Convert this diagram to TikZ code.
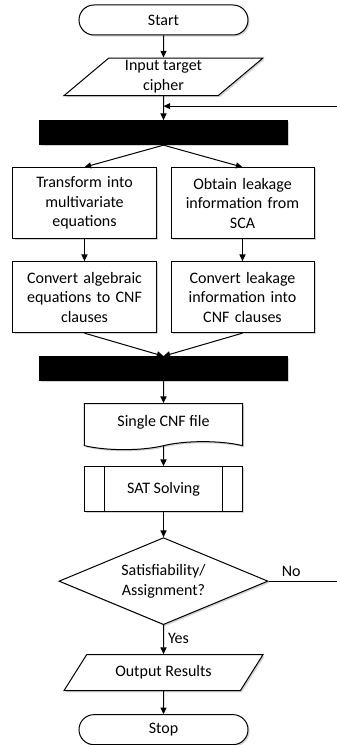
\documentclass[tikz,border=0pt]{standalone}
\usepackage{fontspec}
\setmainfont{Carlito}
\usepackage{tikz}
\usetikzlibrary{arrows.meta, shapes.geometric, shapes.symbols,
                positioning, shadows}

\begin{document}
\begin{tikzpicture}[
  node distance=16.5pt,
  base/.style={
    draw=black, line width=0.75pt, fill=white,
    font=\fontsize{12}{14.6}\selectfont, align=center,
    inner sep=2pt,
    drop shadow={shadow xshift=1.2pt, shadow yshift=-1.2pt,
                 opacity=0.35, fill=black!50}
  },
  term/.style={base, rectangle, rounded corners=11.25pt,
               minimum width=126.75pt, minimum height=22.5pt},
  io/.style={base, trapezium, trapezium left angle=40,
             trapezium right angle=140, trapezium stretches body,
             minimum width=149.25pt, minimum height=27pt},
  barra/.style={base, rectangle, fill=black,
                minimum width=186pt, minimum height=18pt},
  proc/.style={base, rectangle, text width=100pt,
               minimum width=107.25pt, minimum height=53.25pt},
  docu/.style={base, tape, tape bend top=none,
               tape bend bottom=in and out, tape bend height=6pt,
               minimum width=118.5pt, minimum height=34.5pt},
  subp/.style={base, rectangle, minimum width=118.5pt,
               minimum height=33.75pt,
               path picture={
                 \draw[line width=0.75pt]
                   ([xshift=15pt]path picture bounding box.north west) --
                   ([xshift=15pt]path picture bounding box.south west);
                 \draw[line width=0.75pt]
                   ([xshift=-15pt]path picture bounding box.north east) --
                   ([xshift=-15pt]path picture bounding box.south east);
               }},
  deci/.style={base, diamond, aspect=2.4, inner sep=0pt,
               minimum width=156.75pt, minimum height=65.25pt},
  arr/.style={-{Triangle[length=5pt, width=4.5pt]}, line width=0.75pt},
  lab/.style={font=\fontsize{12}{14.6}\selectfont, inner sep=3pt}
]
  \useasboundingbox (-122.625pt,15pt) rectangle (129.375pt,-543.75pt);

  \node[term] (start) {Start};
  \node[io, below=of start] (input) {Input target\\cipher};
  \node[barra, below=18pt of input] (fork) {};

  \node[proc, below=of fork, xshift=-59.25pt] (l1)
    {Transform into\\multivariate\\equations};
  \node[proc, below=of fork, xshift=59.25pt] (r1)
    {Obtain leakage\\information from\\SCA};
  \node[proc, below=of l1] (l2)
    {Convert algebraic\\equations to CNF\\clauses};
  \node[proc, below=of r1] (r2)
    {Convert leakage\\information into\\CNF clauses};

  \coordinate (mid) at (l2.south -| fork.south);
  \node[barra, below=17.25pt of mid] (join) {};
  \node[docu, below=of join] (cnf) {Single CNF file};
  \node[subp, below=18pt of cnf] (sat) {SAT Solving};
  \node[deci, below=18.75pt of sat] (dec) {Satisfiability/\\Assignment?};
  \node[io, below=21.75pt of dec] (out) {Output Results};
  \node[term, below=17.25pt of out] (stop) {Stop};

  % loop back
  \coordinate (loop) at ([yshift=-7.5pt]input.south);
  \coordinate (edge) at (132pt,0pt);
  \coordinate (ret) at (dec.east -| edge);

  \draw[arr] (start) -- (input);
  \draw[arr] (input) -- (fork);
  \draw[arr] (fork.south) -- (l1.north);
  \draw[arr] (fork.south) -- (r1.north);
  \draw[arr] (l1) -- (l2);
  \draw[arr] (r1) -- (r2);
  \draw[arr] (l2.south) -- (join.north);
  \draw[arr] (r2.south) -- (join.north);
  \draw[arr] (join) -- (cnf);
  \draw[arr] (cnf) -- (sat);
  \draw[arr] (sat) -- (dec);
  \draw[arr] (dec) -- node[lab, right, pos=0.45] {Yes} (out);
  \draw[arr] (out) -- (stop);
  \draw[arr] (dec.east) -- node[lab, above, pos=0.32] {No} (ret) |- (loop);
\end{tikzpicture}
\end{document}
